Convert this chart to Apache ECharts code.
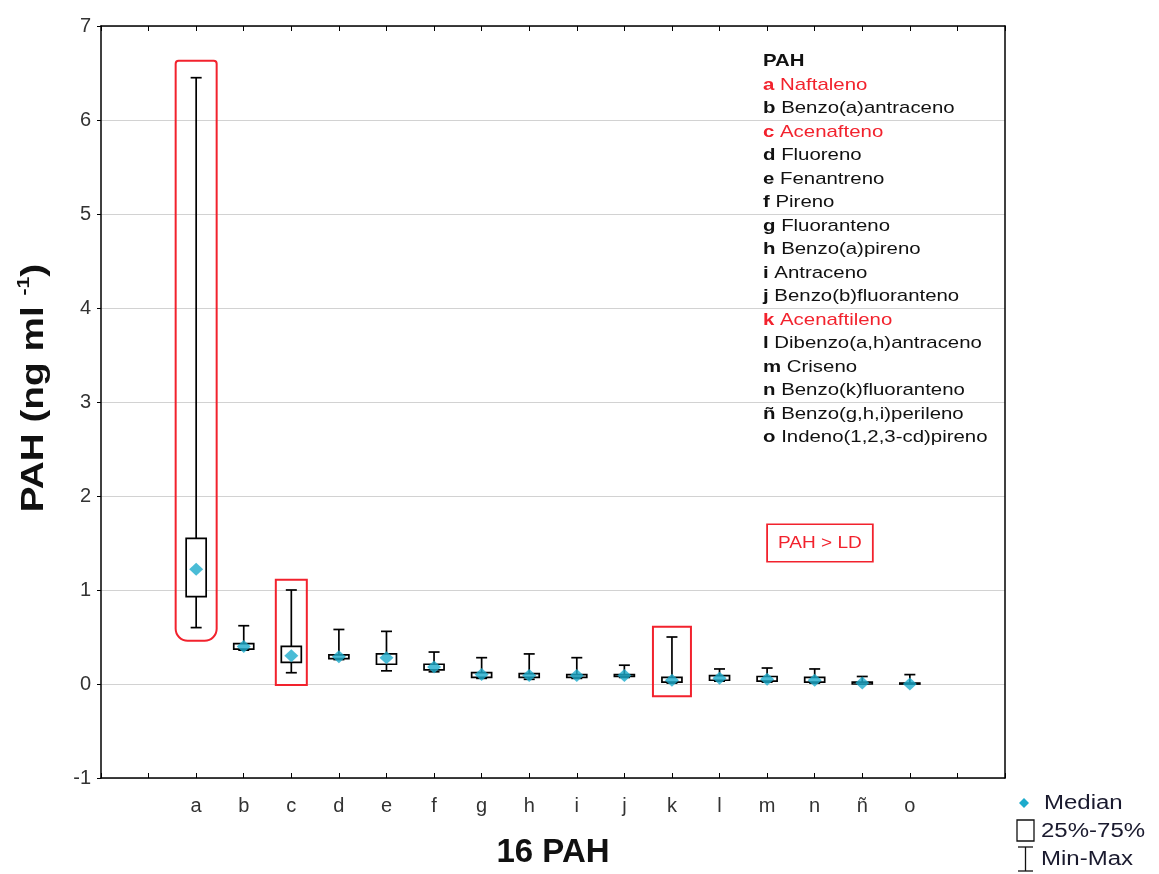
<!DOCTYPE html>
<html>
<head>
<meta charset="utf-8">
<script src="https://cdn.jsdelivr.net/npm/echarts@6/dist/echarts.min.js"></script>
<style>
  html, body { margin: 0; padding: 0; background: #fff; }
  #chart { width: 1159px; height: 874px; }
</style>
</head>
<body>
<div id="chart"></div>
<script>
// categories on the x axis (16 PAH)
const categories = ['a', 'b', 'c', 'd', 'e', 'f', 'g', 'h', 'i', 'j', 'k', 'l', 'm', 'n', 'ñ', 'o'];
const pahNames = ['Naftaleno', 'Benzo(a)antraceno', 'Acenafteno', 'Fluoreno', 'Fenantreno', 'Pireno',
  'Fluoranteno', 'Benzo(a)pireno', 'Antraceno', 'Benzo(b)fluoranteno', 'Acenaftileno',
  'Dibenzo(a,h)antraceno', 'Criseno', 'Benzo(k)fluoranteno', 'Benzo(g,h,i)perileno', 'Indeno(1,2,3-cd)pireno'];

// box plot values (ng/ml)
const mins    = [0.60, 0.36, 0.12, 0.26, 0.14, 0.13, 0.06, 0.05, 0.06, 0.07, 0.01, 0.03, 0.02, 0.01, 0.00, 0.00];
const q1s     = [0.93, 0.37, 0.23, 0.27, 0.21, 0.15, 0.07, 0.07, 0.07, 0.08, 0.02, 0.04, 0.03, 0.02, 0.00, 0.00];
const medians = [1.22, 0.40, 0.30, 0.29, 0.28, 0.18, 0.10, 0.09, 0.09, 0.09, 0.04, 0.06, 0.05, 0.04, 0.01, 0.00];
const q3s     = [1.55, 0.43, 0.40, 0.31, 0.32, 0.21, 0.12, 0.11, 0.10, 0.10, 0.07, 0.09, 0.08, 0.07, 0.02, 0.01];
const maxs    = [6.45, 0.62, 1.00, 0.58, 0.56, 0.34, 0.28, 0.32, 0.28, 0.20, 0.50, 0.16, 0.17, 0.16, 0.08, 0.10];

// PAH above detection limit (highlighted in red), with the value range the frame covers
const aboveLD    = ['a', 'c', 'k'];
const ldFrameTop = [6.63, 1.11, 0.61];
const ldFrameBot = [0.46, -0.01, -0.13];

const yMin = -1, yMax = 7, yStep = 1;
const xMin = -2, xMax = 17;

const RED = '#f2222d';
const CYAN = '#1dabcc';
const FONT = '"Liberation Sans", Arial, sans-serif';
const STRETCH = 1.2; // text in the original is drawn a bit wide

const boxData = categories.map((c, i) => [i, mins[i], q1s[i], medians[i], q3s[i], maxs[i]]);
const medianData = categories.map((c, i) => [i, medians[i]]);

const myChart = echarts.init(document.getElementById('chart'));

const option = {
    animation: false,
    backgroundColor: '#fff',
    grid: { left: 101, right: 154, top: 26, bottom: 95 },
    xAxis: [
        {
            type: 'value',
            min: xMin,
            max: xMax,
            interval: 1,
            name: '16 PAH',
            nameLocation: 'middle',
            nameGap: 58,
            nameTextStyle: { fontFamily: FONT, fontSize: 33, fontWeight: 'bold', color: '#111' },
            axisLine: { onZero: false, lineStyle: { color: '#000', width: 1.5 } },
            axisTick: { inside: true, length: 5, lineStyle: { color: '#000' } },
            axisLabel: {
                margin: 18,
                fontFamily: FONT,
                fontSize: 20,
                color: '#333',
                formatter: v => categories[v] || ''
            },
            splitLine: { show: false }
        },
        {
            type: 'value',
            position: 'top',
            min: xMin,
            max: xMax,
            interval: 1,
            axisLine: { onZero: false, lineStyle: { color: '#000', width: 1.5 } },
            axisTick: { inside: true, length: 5, lineStyle: { color: '#000' } },
            axisLabel: { show: false },
            splitLine: { show: false }
        }
    ],
    yAxis: [
        {
            type: 'value',
            min: yMin,
            max: yMax,
            interval: yStep,
            axisLine: { show: true, onZero: false, lineStyle: { color: '#000', width: 1.5 } },
            axisTick: { show: true, length: 4, lineStyle: { color: '#000' } },
            axisLabel: { margin: 10, fontFamily: FONT, fontSize: 20, color: '#333' },
            splitLine: { lineStyle: { color: '#d2d2d2', width: 1 } }
        },
        {
            type: 'value',
            position: 'right',
            min: yMin,
            max: yMax,
            interval: yStep,
            axisLine: { show: true, onZero: false, lineStyle: { color: '#000', width: 1.5 } },
            axisTick: { show: false },
            axisLabel: { show: false },
            splitLine: { show: false }
        }
    ],
    series: [
        {
            name: 'Min-Max / 25%-75%',
            type: 'custom',
            data: boxData,
            encode: { x: 0, y: [1, 2, 3, 4, 5] },
            z: 3,
            renderItem: (params, api) => {
                const x = api.value(0);
                const pMin = api.coord([x, api.value(1)]);
                const pQ1 = api.coord([x, api.value(2)]);
                const pQ3 = api.coord([x, api.value(4)]);
                const pMax = api.coord([x, api.value(5)]);
                const cx = pMin[0];
                const boxW = 20, capW = 11;
                const line = { stroke: '#000', lineWidth: 1.7 };
                return {
                    type: 'group',
                    children: [
                        { type: 'line', shape: { x1: cx, y1: pMax[1], x2: cx, y2: pQ3[1] }, style: line },
                        { type: 'line', shape: { x1: cx, y1: pQ1[1], x2: cx, y2: pMin[1] }, style: line },
                        { type: 'line', shape: { x1: cx - capW / 2, y1: pMax[1], x2: cx + capW / 2, y2: pMax[1] }, style: line },
                        { type: 'line', shape: { x1: cx - capW / 2, y1: pMin[1], x2: cx + capW / 2, y2: pMin[1] }, style: line },
                        {
                            type: 'rect',
                            shape: { x: cx - boxW / 2, y: pQ3[1], width: boxW, height: Math.max(pQ1[1] - pQ3[1], 1) },
                            style: { fill: '#fff', stroke: '#000', lineWidth: 1.7 }
                        }
                    ]
                };
            }
        },
        {
            name: 'Median',
            type: 'scatter',
            data: medianData,
            symbol: 'diamond',
            symbolSize: [14, 13],
            itemStyle: { color: CYAN },
            z: 4
        }
    ]
};
myChart.setOption(option);

// red frames around the PAH above the detection limit
const frameHalfW = { a: 20.5, c: 15.5, k: 19 };
const frames = aboveLD.map((c, j) => {
    const idx = categories.indexOf(c);
    const pTop = myChart.convertToPixel({ xAxisIndex: 0, yAxisIndex: 0 }, [idx, ldFrameTop[j]]);
    const pBot = myChart.convertToPixel({ xAxisIndex: 0, yAxisIndex: 0 }, [idx, ldFrameBot[j]]);
    const hw = frameHalfW[c];
    return {
        type: 'rect',
        z: 10,
        shape: {
            x: pTop[0] - hw, y: pTop[1], width: hw * 2, height: pBot[1] - pTop[1],
            r: c === 'a' ? [3, 3, 12, 12] : 0
        },
        style: { fill: 'none', stroke: RED, lineWidth: 2 }
    };
});

// PAH name list (top right)
const listLines = ['{h|PAH}'].concat(categories.map((c, i) => {
    const red = aboveLD.indexOf(c) >= 0;
    return red ? '{lr|' + c + '} {nr|' + pahNames[i] + '}' : '{lb|' + c + '} {nb|' + pahNames[i] + '}';
}));

const txt = { fontFamily: FONT, fontSize: 17, lineHeight: 23.5 };
const legendText = { fontFamily: FONT, fontSize: 20, fill: '#1a1a2e', textVerticalAlign: 'middle' };

myChart.setOption({
    graphic: frames.concat([
        // y axis title with superscript
        {
            type: 'text',
            x: 34,
            y: 388,
            rotation: Math.PI / 2,
            scaleX: 1.25,
            z: 10,
            style: {
                text: '{t|PAH (ng ml }{s|-1}{t|)}',
                textAlign: 'center',
                textVerticalAlign: 'middle',
                rich: {
                    t: { fontFamily: FONT, fontSize: 31, fontWeight: 'bold', fill: '#111', lineHeight: 36 },
                    s: { fontFamily: FONT, fontSize: 17, fontWeight: 'bold', fill: '#111', lineHeight: 18, verticalAlign: 'top' }
                }
            }
        },
        {
            type: 'text',
            x: 763,
            y: 50,
            scaleX: STRETCH,
            z: 10,
            style: {
                text: listLines.join('\n'),
                rich: {
                    h: Object.assign({ fontWeight: 'bold', fill: '#111' }, txt),
                    lb: Object.assign({ fontWeight: 'bold', fill: '#111' }, txt),
                    nb: Object.assign({ fill: '#111' }, txt),
                    lr: Object.assign({ fontWeight: 'bold', fill: RED }, txt),
                    nr: Object.assign({ fill: RED }, txt)
                },
                fontFamily: FONT,
                fontSize: 17,
                lineHeight: 23.5
            }
        },
        {
            type: 'text',
            x: 768,
            y: 525,
            scaleX: 1.12,
            z: 10,
            style: {
                text: 'PAH > LD',
                fontFamily: FONT,
                fontSize: 17,
                fill: RED,
                borderColor: RED,
                borderWidth: 1.6,
                padding: [10, 9, 9, 9],
                backgroundColor: '#fff'
            }
        },
        // bottom-right legend
        {
            type: 'polygon',
            z: 10,
            shape: { points: [[1024, 798], [1029, 803], [1024, 808], [1019, 803]] },
            style: { fill: CYAN }
        },
        {
            type: 'text', x: 1044, y: 803, scaleX: STRETCH, z: 10,
            style: Object.assign({ text: 'Median' }, legendText)
        },
        {
            type: 'rect', z: 10,
            shape: { x: 1017, y: 820, width: 17, height: 21 },
            style: { fill: '#fff', stroke: '#111', lineWidth: 1.3 }
        },
        {
            type: 'text', x: 1041, y: 831, scaleX: STRETCH, z: 10,
            style: Object.assign({ text: '25%-75%' }, legendText)
        },
        {
            type: 'polyline', z: 10,
            shape: { points: [[1018, 847], [1033, 847]] },
            style: { stroke: '#111', lineWidth: 1.3 }
        },
        {
            type: 'polyline', z: 10,
            shape: { points: [[1025.5, 847], [1025.5, 871]] },
            style: { stroke: '#111', lineWidth: 1.3 }
        },
        {
            type: 'polyline', z: 10,
            shape: { points: [[1018, 871], [1033, 871]] },
            style: { stroke: '#111', lineWidth: 1.3 }
        },
        {
            type: 'text', x: 1041, y: 859, scaleX: STRETCH, z: 10,
            style: Object.assign({ text: 'Min-Max' }, legendText)
        }
    ])
});

window.addEventListener('resize', function () {
    myChart.resize();
});
</script>
</body>
</html>
